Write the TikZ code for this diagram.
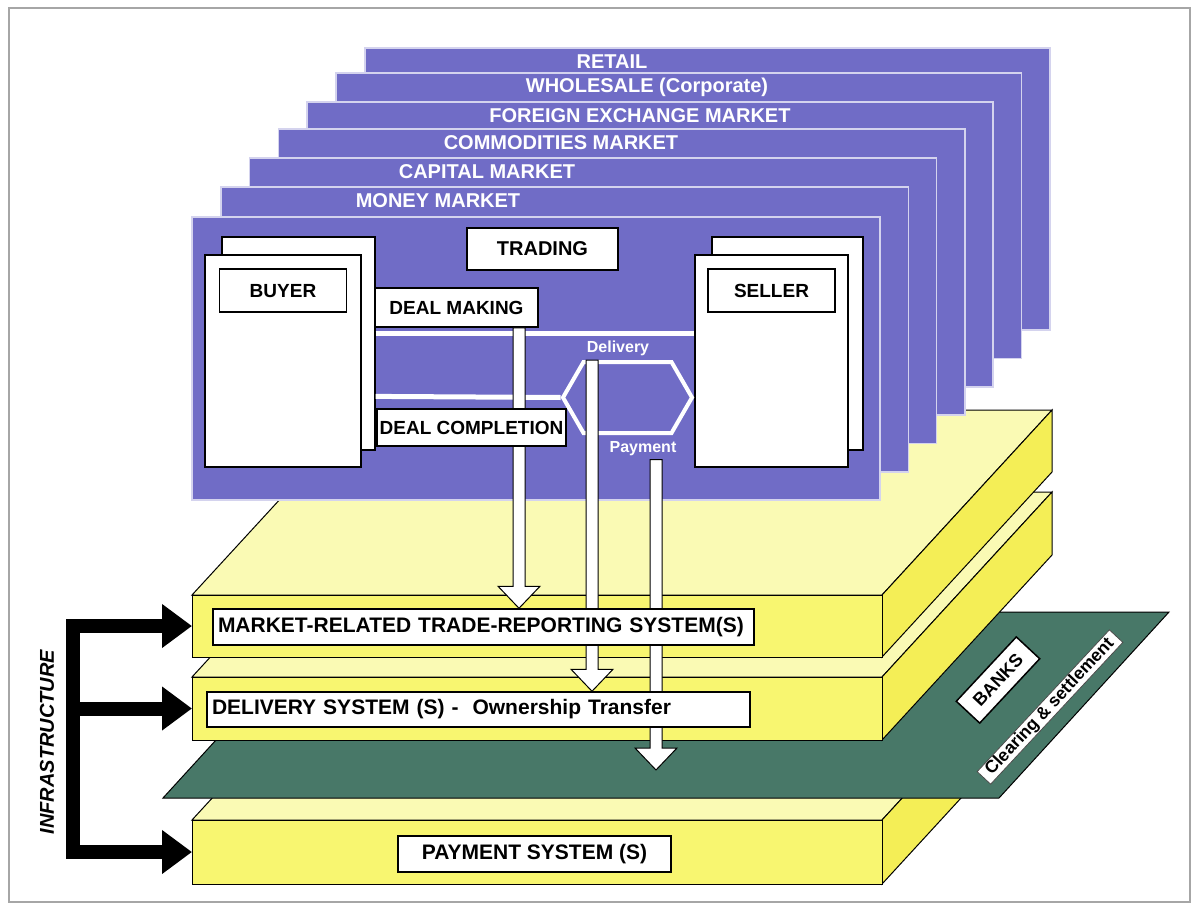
\documentclass[tikz,border=0pt]{standalone}
\usepackage{fontspec}
\setmainfont{Liberation Sans}
\usetikzlibrary{arrows.meta,positioning,calc,shapes.symbols}

\definecolor{mktblue}{RGB}{112,108,198}
\definecolor{slabyellow}{RGB}{248,246,112}
\definecolor{slabpale}{RGB}{250,250,180}
\definecolor{slabdeep}{RGB}{244,238,86}
\definecolor{bankgreen}{RGB}{72,120,104}

\pgfdeclarelayer{front}
\pgfsetlayers{main,front}

% one infrastructure slab: name, left, right, top, bottom
\newcommand\infraslab[5]{%
  \draw[slabtop] (#2,#4) -- (#3,#4) -- ++(170,-185) -- ++({#2-#3},0) -- cycle;
  \draw[slabside] (#3,#4) -- ++(170,-185) -- ++(0,{#5-#4}) -- ++(-170,185) -- cycle;
  \draw[slabface] (#2,#4) rectangle (#3,#5);
  \coordinate (#1-w) at (#2,{(#4+#5)/2});}

% white block arrow from #1 down to the tip #2
\newcommand\hollowarrow[2]{%
  \draw[hollow] let \p1=(#1), \p2=(#2) in
    (\x1-6pt,\y1) -- (\x1+6pt,\y1) -- (\x1+6pt,\y2+22pt) -- (\x1+21pt,\y2+22pt)
    -- (\x1,\y2) -- (\x1-21pt,\y2+22pt) -- (\x1-6pt,\y2+22pt) -- cycle;}

\begin{document}
\begin{tikzpicture}[x=1pt,y=-1pt,
    panel/.style={fill=mktblue,draw=white!70!mktblue,line width=1.6pt},
    panellabel/.style={text=white,font=\bfseries\fontsize{20}{24}\selectfont},
    sheet/.style={fill=white,draw=black,line width=1.2pt,inner sep=0pt},
    tag/.style={fill=white,draw=black,line width=1.5pt,inner sep=0pt,
                font=\bfseries\fontsize{19}{22}\selectfont},
    slabtag/.style={tag,font=\bfseries\fontsize{21}{24}\selectfont},
    slabtop/.style={fill=slabpale,draw=black,line width=1pt},
    slabside/.style={fill=slabdeep,draw=black,line width=1pt},
    slabface/.style={fill=slabyellow,draw=black,line width=1pt},
    tradeline/.style={draw=white,line width=5pt},
    flowlabel/.style={text=white,font=\bfseries\fontsize{16}{18}\selectfont},
    hollow/.style={fill=white,draw=black,line width=1pt},
    infra/.style={line width=14pt,-{Triangle[length=30pt,width=42pt]}}]

  \useasboundingbox (0,0) rectangle (1193,907);
  \draw[gray!70,line width=1.5pt] (9,8) rectangle (1190,902);

  % infrastructure, bottom up
  \infraslab{pay}{192}{882}{820}{884}
  \draw[fill=bankgreen,draw=black,line width=1pt]
    (163,798) -- (999,798) -- (1169,612) -- (333,612) -- cycle;
  \infraslab{dlv}{192}{882}{677}{740}
  \infraslab{mkt}{192}{882}{595}{657}

  \begin{pgfonlayer}{front}
  \node[slabtag,text width=531pt,inner xsep=5pt,minimum height=36pt,align=left]
    (market) at (483.5,627) {MARKET-RELATED TRADE-REPORTING SYSTEM(S)};
  \node[slabtag,text width=533pt,inner xsep=5pt,minimum height=35pt,align=left]
    (delivery) at (478.5,709.5) {DELIVERY SYSTEM (S) -\ \ Ownership Transfer};
  \node[slabtag,minimum width=273pt,minimum height=36pt]
    (payment) at (534.5,854) {PAYMENT SYSTEM (S)};
  \end{pgfonlayer}

  \node[tag,rotate=47,minimum width=88pt,minimum height=32pt,
        font=\bfseries\fontsize{18}{20}\selectfont] (banks) at (998,680) {BANKS};
  \node[fill=white,draw=black!70,line width=0.8pt,rotate=47,inner xsep=7pt,inner ysep=1pt,
        font=\bfseries\fontsize{17.5}{19}\selectfont] (clearing) at (1050,707) {Clearing \& settlement};
  \coordinate (bankdrop) at (656,770);

  % bracket
  \coordinate (spine) at (73,0);
  \draw[line width=14pt,line cap=rect] (spine |- mkt-w) -- (spine |- pay-w);
  \foreach \s in {mkt,dlv,pay}
    \draw[infra] (spine |- \s-w) -- (\s-w);
  \node[rotate=90,font=\bfseries\itshape\fontsize{20}{24}\selectfont]
    (infratext) at (47,742) {INFRASTRUCTURE};

  % market panels, back to front
  \foreach \i/\tp/\lx/\lab in {6/48/612/RETAIL,5/73/647/{WHOLESALE (Corporate)},
      4/102/640/FOREIGN EXCHANGE MARKET,3/129/561/COMMODITIES MARKET,
      2/158/487/CAPITAL MARKET,1/187/438/MONEY MARKET}{
    \draw[panel] ({192+28.8*\i},\tp) rectangle ({880+28.3*\i},{500-28.3*\i});
    \node[panellabel] (lab\i) at (\lx,\tp+14) {\lab};
  }
  \draw[panel] (192,217) rectangle (880,500);

  % trading
  \node[sheet,minimum width=153pt,minimum height=213pt] (buyerback) at (298.5,343.5) {};
  \node[sheet,minimum width=156pt,minimum height=212pt] (buyerfront) at ($(buyerback)+(-15.5,17.5)$) {};
  \node[tag,minimum width=127pt,minimum height=43pt,below=14pt of buyerfront.north] (buyer) {BUYER};
  \node[sheet,minimum width=151pt,minimum height=213pt] (sellerback) at (787.5,343.5) {};
  \node[sheet,minimum width=153pt,minimum height=212pt] (sellerfront) at ($(sellerback)+(-16,17.5)$) {};
  \node[tag,minimum width=127pt,minimum height=43pt,below=14pt of sellerfront.north] (seller) {SELLER};
  \node[tag,minimum width=151pt,minimum height=42pt,font=\bfseries\fontsize{20}{22}\selectfont]
    (trading) at (542.5,249) {TRADING};
  \node[tag,minimum width=163pt,minimum height=39pt] (dealmaking) at (456.5,307.5) {DEAL MAKING};

  \node[signal,signal to=west and east,signal pointer angle=120,draw=white,line width=4pt,
        minimum width=129pt,minimum height=71pt,inner sep=0pt] (hex) at (627.5,397.5) {};
  \draw[tradeline] ([yshift=-97pt]buyerback.north east) -- ([yshift=-79pt]sellerfront.north west);
  \draw[tradeline] ([yshift=-160pt]buyerback.north east) -- (hex.west);
  \node[flowlabel] (dlvlabel) at (618,348) {Delivery};
  \node[flowlabel] (paylabel) at (643,449) {Payment};

  \coordinate (dmx) at (519,0);
  \coordinate (dvx) at (592,0);
  \coordinate (pmx) at (656,0);
  \hollowarrow{dealmaking.south -| dmx}{market.north -| dmx}
  \hollowarrow{hex.north -| dvx}{delivery.north -| dvx}
  \hollowarrow{paylabel.south -| pmx}{bankdrop}

  \node[tag,minimum width=189pt,minimum height=37pt] (dealdone) at (471.5,427.5) {DEAL COMPLETION};
\end{tikzpicture}
\end{document}
